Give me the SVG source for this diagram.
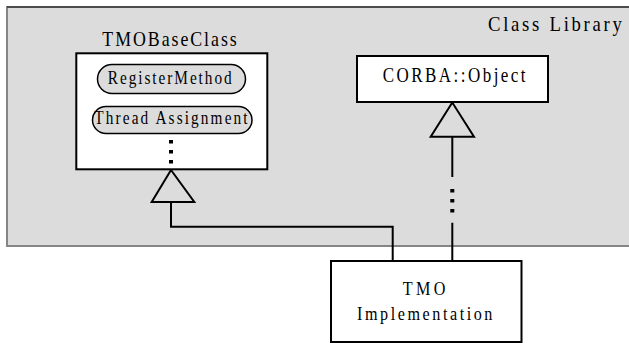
<svg xmlns="http://www.w3.org/2000/svg" width="629" height="343" viewBox="0 0 629 343">
<style>
text{font-family:"Liberation Serif","Times New Roman",serif;fill:#000}
.box{fill:#fff;stroke:#000;stroke-width:2}
.pill{fill:#dcdcdc;stroke:#000;stroke-width:1.5}
.tri{fill:#dcdcdc;stroke:#000;stroke-width:2;stroke-linejoin:miter}
.conn{fill:none;stroke:#000;stroke-width:2}
.dots{fill:none;stroke:#000;stroke-width:4;stroke-dasharray:3.5 6.5}
</style>
<rect x="7" y="7" width="640" height="239" fill="#dcdcdc" stroke="#858585" stroke-width="2"/>
<line x1="7" y1="7" x2="629" y2="7" stroke="#3a3a3a" stroke-width="1.5"/>
<text x="488" y="31" font-size="22" letter-spacing="3.2" transform="matrix(0.85 0 0 1 73.2 0)">Class Library</text>

<g id="connectors">
  <path class="conn" d="M171,202 V226.7 H392.7 V260"/>
  <path class="conn" d="M452.3,137 V177 M452.3,222.7 V260"/>
  <line class="dots" x1="452.3" y1="189" x2="452.3" y2="214"/>
  <polygon class="tri" points="171,170 151.7,202 194.3,202"/>
  <polygon class="tri" points="452.3,102.5 430.7,136.7 474,136.7"/>
</g>

<g id="tmobaseclass">
  <text x="170.5" y="46" font-size="21" letter-spacing="2.3" text-anchor="middle" transform="matrix(0.85 0 0 1 25.575 0)">TMOBaseClass</text>
  <rect class="box" x="76.3" y="53.3" width="191" height="116"/>
  <g id="registermethod">
    <rect class="pill" x="97.5" y="64.5" width="148" height="29" rx="14.5"/>
    <text x="170.7" y="84.5" font-size="18" letter-spacing="2.3" text-anchor="middle" transform="matrix(0.85 0 0 1 25.605 0)">RegisterMethod</text>
  </g>
  <g id="threadassignment">
    <rect class="pill" x="92.5" y="106.5" width="159.5" height="27" rx="13.5"/>
    <text x="172" y="124" font-size="18" letter-spacing="2.5" text-anchor="middle" transform="matrix(0.85 0 0 1 25.8 0)">Thread Assignment</text>
  </g>
  <line class="dots" x1="171" y1="140" x2="171" y2="165"/>
</g>

<g id="corbaobject">
  <rect class="box" x="357" y="56" width="191" height="46"/>
  <text x="455.4" y="82" font-size="20" letter-spacing="2.9" text-anchor="middle" transform="matrix(0.85 0 0 1 68.31 0)">CORBA::Object</text>
</g>

<g id="tmoimplementation">
  <rect class="box" x="331" y="261" width="190.5" height="81"/>
  <text x="425.7" y="295" font-size="19" letter-spacing="4" text-anchor="middle" transform="matrix(0.85 0 0 1 63.855 0)">TMO</text>
  <text x="426" y="320" font-size="19" letter-spacing="3" text-anchor="middle" transform="matrix(0.85 0 0 1 63.9 0)">Implementation</text>
</g>
</svg>
